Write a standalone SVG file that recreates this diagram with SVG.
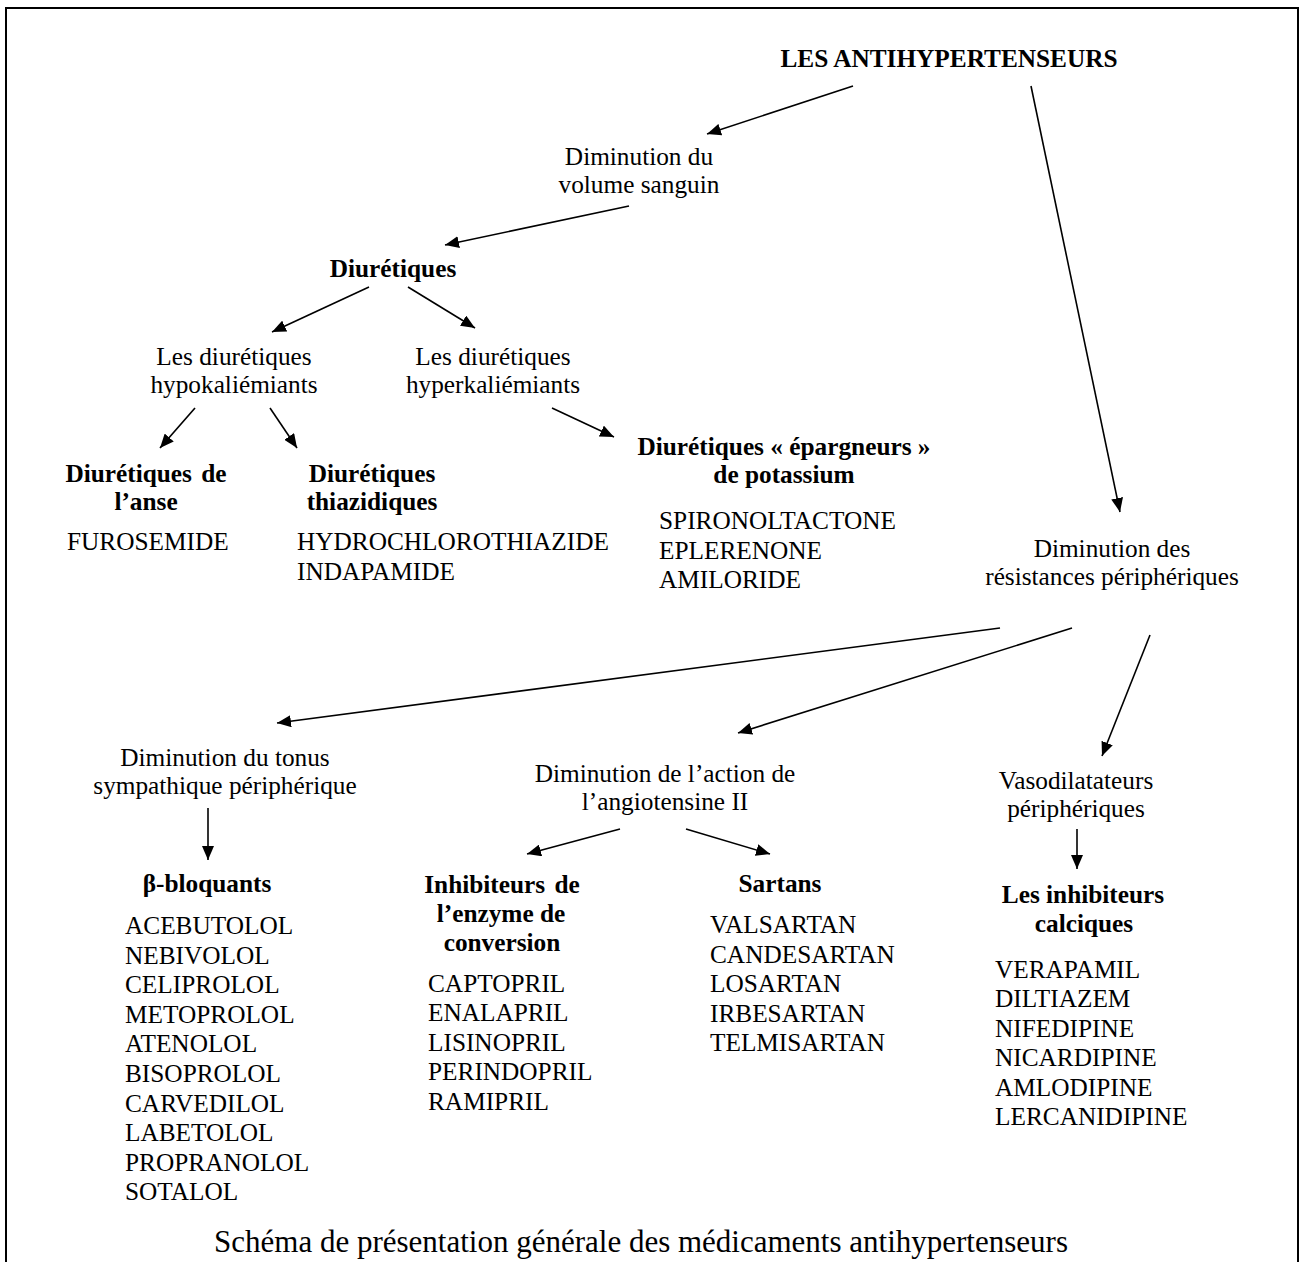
<svg xmlns="http://www.w3.org/2000/svg" width="1301" height="1262" viewBox="0 0 1301 1262">
<style>
text{font-family:"Liberation Serif","Times New Roman",serif;font-size:25.3px;fill:#000}
.b{font-weight:bold}
.c{text-anchor:middle}
.cap{font-size:31px}
.ln{stroke:#000;stroke-width:1.6;fill:none;marker-end:url(#ah)}
</style>
<defs>
<marker id="ah" markerUnits="userSpaceOnUse" markerWidth="14" markerHeight="12" refX="14" refY="6" orient="auto">
<path d="M0,0 L14,6 L0,12 z" fill="#000"/>
</marker>
</defs>
<rect x="6" y="8" width="1292" height="1270" fill="#fff" stroke="#000" stroke-width="2"/>
<g id="connectors">
<line class="ln" x1="853" y1="86" x2="707" y2="134"/>
<line class="ln" x1="1031" y1="86" x2="1120" y2="512"/>
<line class="ln" x1="629" y1="206" x2="445" y2="245"/>
<line class="ln" x1="369" y1="287" x2="272" y2="332"/>
<line class="ln" x1="408" y1="287" x2="475" y2="328"/>
<line class="ln" x1="195" y1="408" x2="160" y2="448"/>
<line class="ln" x1="270" y1="408" x2="297" y2="448"/>
<line class="ln" x1="552" y1="408" x2="614" y2="437"/>
<line class="ln" x1="1000" y1="628" x2="277" y2="723"/>
<line class="ln" x1="1072" y1="628" x2="738" y2="733"/>
<line class="ln" x1="1150" y1="635" x2="1102" y2="756"/>
<line class="ln" x1="208" y1="808" x2="208" y2="860"/>
<line class="ln" x1="620" y1="829" x2="527" y2="854"/>
<line class="ln" x1="686" y1="829" x2="770" y2="854"/>
<line class="ln" x1="1077" y1="829" x2="1077" y2="869"/>
</g>
<g id="n-root"><text class="b c" x="949" y="67">LES ANTIHYPERTENSEURS</text></g>
<g id="n-volume"><text class="c" x="639" y="165">Diminution du</text><text class="c" x="639" y="193">volume sanguin</text></g>
<g id="n-diuretiques"><text class="b c" x="393" y="277">Diurétiques</text></g>
<g id="n-hypo"><text class="c" x="234" y="365">Les diurétiques</text><text class="c" x="234" y="393">hypokaliémiants</text></g>
<g id="n-hyper"><text class="c" x="493" y="365">Les diurétiques</text><text class="c" x="493" y="393">hyperkaliémiants</text></g>
<g id="n-anse"><text class="b c" x="146" y="482" word-spacing="3">Diurétiques de</text><text class="b c" x="146" y="510">l’anse</text><text x="67" y="550">FUROSEMIDE</text></g>
<g id="n-thiazid"><text class="b c" x="372" y="482">Diurétiques</text><text class="b c" x="372" y="510">thiazidiques</text><text x="297" y="550">HYDROCHLOROTHIAZIDE</text><text x="297" y="580">INDAPAMIDE</text></g>
<g id="n-epargneurs"><text class="b c" x="784" y="455">Diurétiques « épargneurs »</text><text class="b c" x="784" y="483">de potassium</text><text x="659" y="529">SPIRONOLTACTONE</text><text x="659" y="559">EPLERENONE</text><text x="659" y="588">AMILORIDE</text></g>
<g id="n-resistances"><text class="c" x="1112" y="557">Diminution des</text><text class="c" x="1112" y="585">résistances périphériques</text></g>
<g id="n-tonus"><text class="c" x="225" y="766">Diminution du tonus</text><text class="c" x="225" y="794">sympathique périphérique</text></g>
<g id="n-beta"><text class="b c" x="207" y="892">β-bloquants</text>
<text x="125" y="934">ACEBUTOLOL</text><text x="125" y="964">NEBIVOLOL</text><text x="125" y="993">CELIPROLOL</text><text x="125" y="1023">METOPROLOL</text><text x="125" y="1052">ATENOLOL</text><text x="125" y="1082">BISOPROLOL</text><text x="125" y="1112">CARVEDILOL</text><text x="125" y="1141">LABETOLOL</text><text x="125" y="1171">PROPRANOLOL</text><text x="125" y="1200">SOTALOL</text></g>
<g id="n-angio"><text class="c" x="665" y="782">Diminution de l’action de</text><text class="c" x="665" y="810">l’angiotensine II</text></g>
<g id="n-iec"><text class="b c" x="502" y="893" word-spacing="3">Inhibiteurs de</text><text class="b c" x="501" y="922">l’enzyme de</text><text class="b c" x="502" y="951">conversion</text>
<text x="428" y="992">CAPTOPRIL</text><text x="428" y="1021">ENALAPRIL</text><text x="428" y="1051">LISINOPRIL</text><text x="428" y="1080">PERINDOPRIL</text><text x="428" y="1110">RAMIPRIL</text></g>
<g id="n-sartans"><text class="b c" x="780" y="892">Sartans</text>
<text x="710" y="933">VALSARTAN</text><text x="710" y="963">CANDESARTAN</text><text x="710" y="992">LOSARTAN</text><text x="710" y="1022">IRBESARTAN</text><text x="710" y="1051">TELMISARTAN</text></g>
<g id="n-vaso"><text class="c" x="1076" y="789">Vasodilatateurs</text><text class="c" x="1076" y="817">périphériques</text></g>
<g id="n-calc"><text class="b c" x="1083" y="903">Les inhibiteurs</text><text class="b c" x="1084" y="932">calciques</text>
<text x="995" y="978">VERAPAMIL</text><text x="995" y="1007">DILTIAZEM</text><text x="995" y="1037">NIFEDIPINE</text><text x="995" y="1066">NICARDIPINE</text><text x="995" y="1096">AMLODIPINE</text><text x="995" y="1125">LERCANIDIPINE</text></g>
<g id="caption"><text class="c cap" x="641" y="1252">Schéma de présentation générale des médicaments antihypertenseurs</text></g>
</svg>
